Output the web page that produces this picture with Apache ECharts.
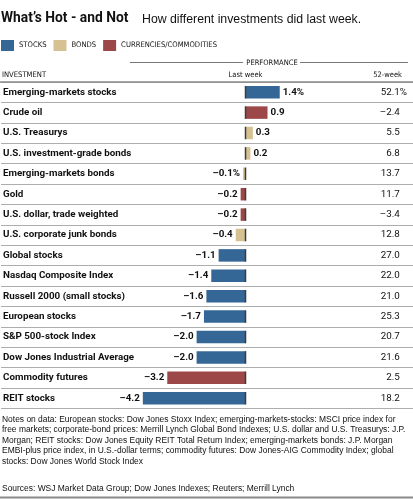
<!DOCTYPE html>
<html><head><meta charset="utf-8">
<script src="https://cdn.jsdelivr.net/npm/echarts@6/dist/echarts.min.js"></script>
<style>html,body{margin:0;padding:0;background:#fff}#c{width:413px;height:501px}</style>
</head><body><div id="c"></div>
<script>
const categories = ['Emerging-markets stocks','Crude oil','U.S. Treasurys','U.S. investment-grade bonds','Emerging-markets bonds','Gold','U.S. dollar, trade weighted','U.S. corporate junk bonds','Global stocks','Nasdaq Composite Index','Russell 2000 (small stocks)','European stocks','S&P 500-stock Index','Dow Jones Industrial Average','Commodity futures','REIT stocks'];
const assetType = ['STOCKS','CURRENCIES/COMMODITIES','BONDS','BONDS','BONDS','CURRENCIES/COMMODITIES','CURRENCIES/COMMODITIES','BONDS','STOCKS','STOCKS','STOCKS','STOCKS','STOCKS','STOCKS','CURRENCIES/COMMODITIES','STOCKS'];
const lastWeek = [1.4,0.9,0.3,0.2,-0.1,-0.2,-0.2,-0.4,-1.1,-1.4,-1.6,-1.7,-2.0,-2.0,-3.2,-4.2];
const week52 = [52.1,-2.4,5.5,6.8,13.7,11.7,-3.4,12.8,27.0,22.0,21.0,25.3,20.7,21.6,2.5,18.2];
const pctRowsLastWeek = [0,4];
const pctRows52 = [0];
const seriesNames = ['STOCKS','BONDS','CURRENCIES/COMMODITIES'];
const seriesColors = {'STOCKS':'#346796','BONDS':'#d6c193','CURRENCIES/COMMODITIES':'#9c4848'};
const notes = ['Notes on data: European stocks: Dow Jones Stoxx Index; emerging-markets-stocks: MSCI price index for',
'free markets; corporate-bond prices: Merrill Lynch Global Bond Indexes; U.S. dollar and U.S. Treasurys: J.P.',
'Morgan; REIT stocks: Dow Jones Equity REIT Total Return Index; emerging-markets bonds: J.P. Morgan',
'EMBI-plus price index, in U.S.-dollar terms; commodity futures: Dow Jones-AIG Commodity Index; global',
'stocks: Dow Jones World Stock Index'];
const sources = 'Sources: WSJ Market Data Group; Dow Jones Indexes; Reuters; Merrill Lynch';

const COND = "'DejaVu Sans Condensed','Liberation Sans Narrow',sans-serif";
const ROB = "Roboto,'Liberation Sans',sans-serif";
const SANS = "'Liberation Sans',Arial,sans-serif";
const fmt = v => (v < 0 ? '\u2013' : '') + Math.abs(v).toFixed(1);

const barSeries = seriesNames.map(name => ({
  name, type: 'bar', stack: 'all', barWidth: 12.5,
  itemStyle: { color: seriesColors[name] },
  data: lastWeek.map((v, i) => assetType[i] === name ? {
    value: v,
    label: { position: v >= 0 ? 'right' : 'left' }
  } : '-'),
  label: {
    show: true, distance: 3, color: '#111', fontWeight: 'bold', fontSize: 9.8, fontFamily: ROB,
    formatter: p => fmt(p.value) + (pctRowsLastWeek.includes(p.dataIndex) ? '%' : '')
  }
}));

const zeroEdge = {
  type: 'custom', silent: true, z: 5,
  data: categories.map((c, i) => [0, i]),
  encode: { x: 0, y: 1 },
  renderItem: (params, api) => {
    const p = api.coord([0, api.value(1)]);
    return { type: 'rect', shape: { x: p[0] - 0.75, y: p[1] - 6.25, width: 1.5, height: 12.5 }, style: { fill: '#3c3c3c' } };
  }
};

const chart = echarts.init(document.getElementById('c'));
chart.setOption({
  animation: false,
  backgroundColor: '#fff',
  grid: { left: 0, right: 0, top: 82, height: 326.4 },
  xAxis: { type: 'value', min: -10, max: 6.85, show: false },
  yAxis: [{
    type: 'category', data: categories, inverse: true,
    axisLine: { show: false }, axisTick: { show: false },
    splitLine: { show: true, showMinLine: true, showMaxLine: true, lineStyle: { color: '#adadad', width: 1 } },
    axisLabel: { inside: true, margin: 2, color: '#111', fontWeight: 'bold', fontSize: 9.8, fontFamily: ROB }
  }, {
    type: 'category', data: categories, inverse: true, position: 'right',
    axisLine: { show: false }, axisTick: { show: false }, splitLine: { show: false },
    axisLabel: {
      inside: true, margin: 6, align: 'right', color: '#111', fontSize: 9.8, fontFamily: ROB,
      formatter: (v, i) => fmt(week52[i]) + (pctRows52.includes(i) ? '%' : '{h|%}'),
      rich: { h: { color: 'rgba(0,0,0,0)', fontSize: 9.8, fontFamily: ROB } }
    }
  }],
  legend: {
    data: seriesNames, left: 1, top: 40, padding: 0, itemWidth: 13, itemHeight: 11, itemGap: 7, icon: 'rect',
    textStyle: { fontSize: 7.6, fontFamily: COND, color: '#111' }
  },
  series: [...barSeries, zeroEdge],
  graphic: [
    { type: 'text', x: 1, y: 19, style: { text: "What\u2019s Hot - and Not", font: "bold 13.8px " + ROB, fill: '#111', textVerticalAlign: 'middle' } },
    { type: 'text', x: 142, y: 20, style: { text: 'How different investments did last week.', font: '12.3px ' + SANS, fill: '#111', textVerticalAlign: 'middle' } },
    { type: 'line', shape: { x1: 130, y1: 62.5, x2: 243, y2: 62.5 }, style: { stroke: '#777', lineWidth: 1 } },
    { type: 'line', shape: { x1: 300, y1: 62.5, x2: 408, y2: 62.5 }, style: { stroke: '#777', lineWidth: 1 } },
    { type: 'text', x: 272, y: 63, style: { text: 'PERFORMANCE', font: '7.5px ' + COND, fill: '#111', textAlign: 'center', textVerticalAlign: 'middle' } },
    { type: 'text', x: 2, y: 75, style: { text: 'INVESTMENT', font: '7.6px ' + COND, fill: '#111', textVerticalAlign: 'middle' } },
    { type: 'text', x: 245.5, y: 75, style: { text: 'Last week', font: '7.5px ' + COND, fill: '#111', textAlign: 'center', textVerticalAlign: 'middle' } },
    { type: 'text', x: 402, y: 75, style: { text: '52-week', font: '7.5px ' + COND, fill: '#111', textAlign: 'right', textVerticalAlign: 'middle' } },
    { type: 'line', z: 10, shape: { x1: 0, y1: 82, x2: 413, y2: 82 }, style: { stroke: '#8a8a8a', lineWidth: 1.5 } },
    { type: 'text', x: 2, y: 414, style: { text: notes.join('\n'), font: '8.45px ' + SANS, fill: '#111', lineHeight: 10.5 } },
    { type: 'text', x: 2, y: 489, style: { text: sources, font: '8.45px ' + SANS, fill: '#111', textVerticalAlign: 'middle' } },
    { type: 'line', shape: { x1: 0, y1: 497.5, x2: 413, y2: 497.5 }, style: { stroke: '#8a8a8a', lineWidth: 2 } }
  ]
});
</script></body></html>
